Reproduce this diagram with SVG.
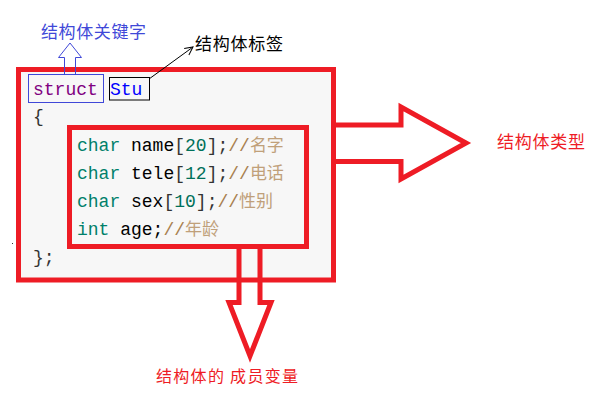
<svg xmlns="http://www.w3.org/2000/svg" width="609" height="409" viewBox="0 0 609 409">
<style>
.red{fill:none;stroke:#ee1c25;stroke-width:5}
.code{font-family:"Liberation Mono",monospace;font-size:18px}
.cjk{font-family:"Noto Sans CJK SC","Noto Sans CJK JP",sans-serif}
.kw{fill:#00806a}
.id{fill:#000}
.br{fill:#333}
.num{fill:#00705a}
.cm{fill:#a8804f}
.cmz{fill:#c0a07a}
</style>
<defs>
<marker id="open" markerWidth="10" markerHeight="10" refX="9" refY="5" orient="auto" markerUnits="userSpaceOnUse">
<path d="M1,1 L9,5 L1,9" fill="none" stroke="#000" stroke-width="1"/>
</marker>
</defs>
<rect width="609" height="409" fill="#fff"/>
<g id="struct-box">
<rect x="18.5" y="69.5" width="315" height="210.5" fill="#f7f7f7" stroke="#ee1c25" stroke-width="5"/>
<text class="code br" x="33" y="122">{</text>
<text class="code br" x="33" y="263">};</text>
</g>
<g id="members">
<rect x="69.5" y="127.5" width="237" height="119" class="red"/>
<text class="code" x="77" y="151"><tspan class="kw">char</tspan><tspan class="id"> name</tspan><tspan class="br">[</tspan><tspan class="num">20</tspan><tspan class="br">];</tspan><tspan class="cm">//</tspan><tspan class="cmz" style="font-family:'Noto Sans CJK SC',sans-serif;font-size:17px">名字</tspan></text>
<text class="code" x="77" y="179"><tspan class="kw">char</tspan><tspan class="id"> tele</tspan><tspan class="br">[</tspan><tspan class="num">12</tspan><tspan class="br">];</tspan><tspan class="cm">//</tspan><tspan class="cmz" style="font-family:'Noto Sans CJK SC',sans-serif;font-size:17px">电话</tspan></text>
<text class="code" x="77" y="207"><tspan class="kw">char</tspan><tspan class="id"> sex</tspan><tspan class="br">[</tspan><tspan class="num">10</tspan><tspan class="br">];</tspan><tspan class="cm">//</tspan><tspan class="cmz" style="font-family:'Noto Sans CJK SC',sans-serif;font-size:17px">性别</tspan></text>
<text class="code" x="77" y="235"><tspan class="kw">int</tspan><tspan class="id"> age;</tspan><tspan class="cm">//</tspan><tspan class="cmz" style="font-family:'Noto Sans CJK SC',sans-serif;font-size:17px">年龄</tspan></text>
</g>
<g id="keyword">
<rect x="28.5" y="74.5" width="75" height="28" fill="none" stroke="#4048d8" stroke-width="1"/>
<text class="code" x="33" y="95" fill="#800080">struct</text>
</g>
<g id="tag">
<rect x="109.5" y="77.5" width="40" height="22.5" fill="none" stroke="#000" stroke-width="1"/>
<text class="code" x="110" y="95" fill="#0000ff">Stu</text>
</g>
<g id="connectors">
<path d="M64.5,74 V57.5 H58.5 L70,43 L81.5,57.5 H75.5 V74" fill="none" stroke="#4048d8" stroke-width="1"/>
<line x1="149" y1="79" x2="193" y2="47" stroke="#000" stroke-width="1" marker-end="url(#open)"/>
<path d="M336,125 H401 V107 L466,143 L401,179 V161.5 H336" class="red" stroke-linejoin="miter"/>
<path d="M239,249 V302.5 H229 L250,356 L271,302.5 H260 V249" class="red"/>
</g>
<g id="labels">
<text class="cjk" x="41" y="38" font-size="17" fill="#4048d8" textLength="105">结构体关键字</text>
<text class="cjk" x="195" y="50" font-size="17" fill="#000" textLength="88">结构体标签</text>
<text class="cjk" x="497" y="148" font-size="17" fill="#ee1c25" textLength="88">结构体类型</text>
<text class="cjk" x="156" y="382" font-size="16" fill="#ee1c25" textLength="142">结构体的 成员变量</text>
</g>
<rect x="12" y="243" width="1" height="1" fill="#333"/>
</svg>
